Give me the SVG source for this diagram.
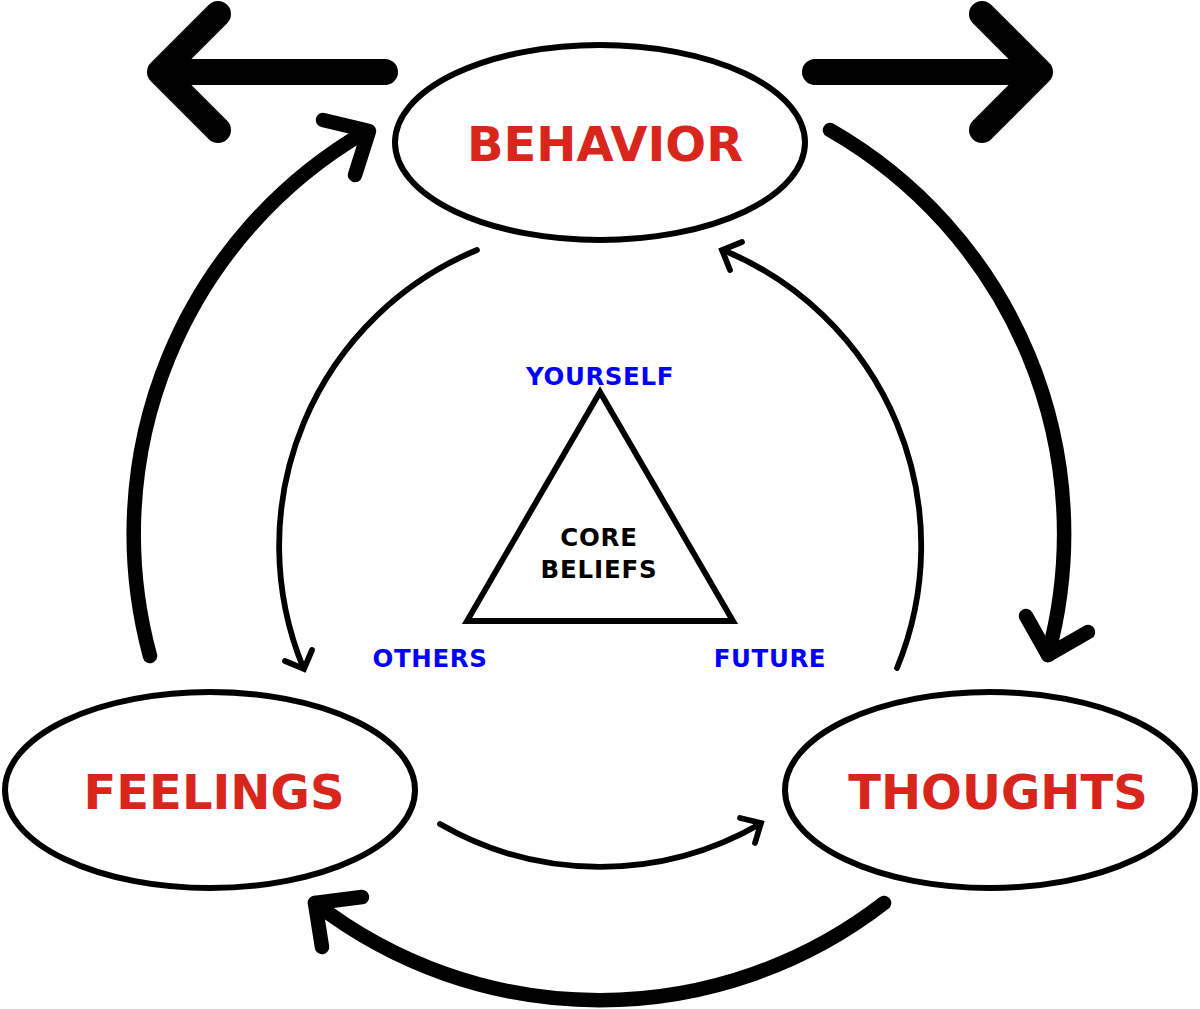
<svg xmlns="http://www.w3.org/2000/svg" width="1200" height="1009" viewBox="0 0 1200 1009">
<style>
.node{fill:#fff;stroke:#000;stroke-width:6}
.big{font-family:"DejaVu Sans",sans-serif;font-weight:bold;font-size:48px;fill:#d9261c;text-anchor:middle}
.lbl{font-family:"DejaVu Sans",sans-serif;font-weight:bold;font-size:24.5px;fill:#0000ff;text-anchor:middle;letter-spacing:0.6px}
.core{font-family:"DejaVu Sans",sans-serif;font-weight:bold;font-size:24.5px;fill:#000;text-anchor:middle;letter-spacing:0.8px}
.huge{fill:none;stroke:#000;stroke-width:26;stroke-linecap:round;stroke-linejoin:round}
.thick{fill:none;stroke:#000;stroke-width:14.5;stroke-linecap:round;stroke-linejoin:round}
.thin{fill:none;stroke:#000;stroke-width:5.8;stroke-linecap:round;stroke-linejoin:miter}
</style>
<rect width="1200" height="1009" fill="#fff"/>
<g id="connectors">
<path class="huge" d="M385,72 H160 M218,14 L160,72 L218,130"/>
<path class="huge" d="M815,72 H1040 M982,14 L1040,72 L982,130"/>
<path class="thick" d="M150,656 A465,465 0 0 1 365,132"/>
<path class="thick" d="M323,120 L369,131 L355,175"/>
<path class="thick" d="M830,130 A465,465 0 0 1 1048,655"/>
<path class="thick" d="M1026,616 L1048,655 L1088,632"/>
<path class="thick" d="M884,903 A465,465 0 0 1 315,903"/>
<path class="thick" d="M362,897 L315,903 L322,947"/>
<path class="thin" d="M477,250 A320,320 0 0 0 303,667"/>
<path class="thin" d="M285,661 L304,669 L312,650"/>
<path class="thin" d="M897,668 A320,320 0 0 0 723,250"/>
<path class="thin" d="M730,270 L722,250 L742,242"/>
<path class="thin" d="M440,824 A320,320 0 0 0 760,824"/>
<path class="thin" d="M740,818 L761,823 L755,843"/>
</g>
<g id="behavior">
<ellipse class="node" cx="600" cy="142.5" rx="205" ry="97.5"/>
<text class="big" x="605" y="161">BEHAVIOR</text>
</g>
<g id="feelings">
<ellipse class="node" cx="210" cy="790" rx="205" ry="98"/>
<text class="big" x="214" y="809">FEELINGS</text>
</g>
<g id="thoughts">
<ellipse class="node" cx="990" cy="790" rx="205" ry="98"/>
<text class="big" x="998" y="809">THOUGHTS</text>
</g>
<g id="core-beliefs">
<path class="thin" d="M600,392 L733,621 L467,621 Z"/>
<text class="core" x="599" y="546">CORE</text>
<text class="core" x="599" y="578">BELIEFS</text>
</g>
<g id="yourself"><text class="lbl" x="600" y="385">YOURSELF</text></g>
<g id="others"><text class="lbl" x="430" y="667">OTHERS</text></g>
<g id="future"><text class="lbl" x="770" y="667">FUTURE</text></g>
</svg>
